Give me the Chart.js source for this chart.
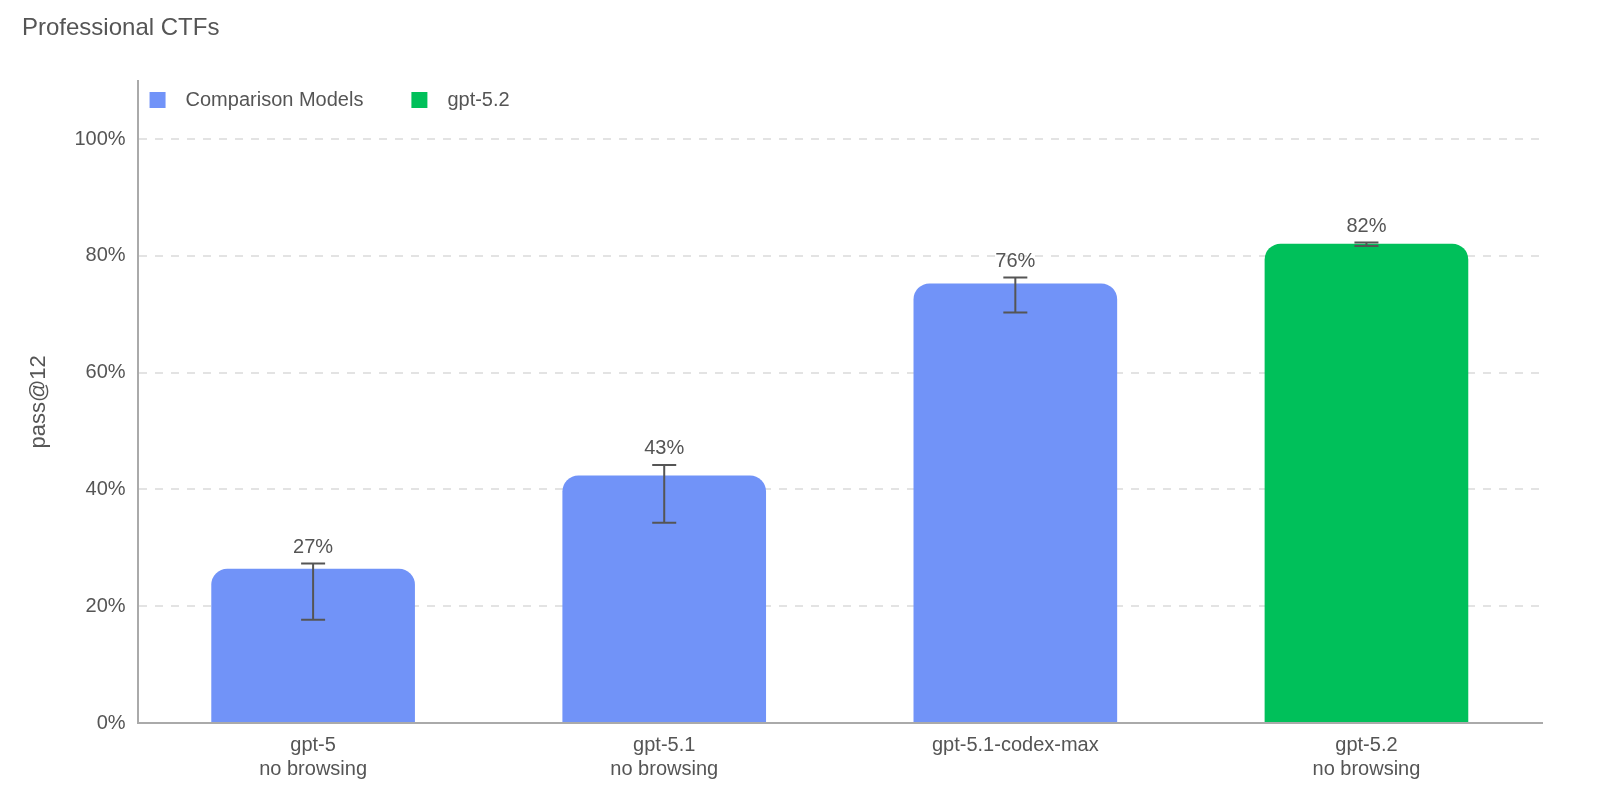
<!DOCTYPE html>
<html>
<head>
<meta charset="utf-8">
<script src="https://cdn.jsdelivr.net/npm/chart.js@4.4.1/dist/chart.umd.min.js"></script>
<style>
  html, body { margin: 0; padding: 0; background: #fff; overflow: hidden; }
  #wrap { width: 1600px; height: 801px; }
</style>
</head>
<body>
<div id="wrap"><canvas id="c"></canvas></div>
<script>
// data
const categories = [['gpt-5', 'no browsing'], ['gpt-5.1', 'no browsing'], ['gpt-5.1-codex-max'], ['gpt-5.2', 'no browsing']];
const comparisonValues = [26.4, 42.4, 75.3, null];
const gpt52Values = [null, null, null, 82.1];
const errLow = [17.7, 34.3, 70.3, 81.7];
const errHigh = [27.3, 44.2, 76.3, 82.3];
const valueLabels = ['27%', '43%', '76%', '82%'];
const yTicks = [0, 20, 40, 60, 80, 100];

const GRAY = '#555';
const FONT = 'Liberation Sans, Arial, sans-serif';

// error bars, value labels and the legend inside the plot
const extras = {
    id: 'extras',
    afterDatasetsDraw(chart) {
        let ctx = chart.ctx;
        let y = chart.scales.y;
        ctx.save();
        chart.data.datasets.forEach(function (ds, di) {
            let meta = chart.getDatasetMeta(di);
            meta.data.forEach(function (bar, i) {
                if (ds.data[i] == null) return;
                let x = bar.x;
                let yl = y.getPixelForValue(errLow[i]);
                let yh = y.getPixelForValue(errHigh[i]);
                ctx.strokeStyle = GRAY;
                ctx.lineWidth = 2;
                ctx.beginPath();
                ctx.moveTo(x, yl); ctx.lineTo(x, yh);
                ctx.moveTo(x - 12, yl); ctx.lineTo(x + 12, yl);
                ctx.moveTo(x - 12, yh); ctx.lineTo(x + 12, yh);
                ctx.stroke();
                ctx.fillStyle = GRAY;
                ctx.font = '20px ' + FONT;
                ctx.textAlign = 'center';
                ctx.textBaseline = 'bottom';
                ctx.fillText(valueLabels[i], x, Math.min(yh, bar.y) - 6);
            });
        });
        // legend
        let left = chart.chartArea.left;
        let items = chart.data.datasets.map(function (d) { return [d.label, d.backgroundColor]; });
        let lx = left + 12;
        ctx.font = '20px ' + FONT;
        ctx.textAlign = 'left';
        ctx.textBaseline = 'middle';
        items.forEach(function (it) {
            ctx.fillStyle = it[1];
            ctx.fillRect(lx, 92, 16, 16);
            ctx.fillStyle = GRAY;
            ctx.fillText(it[0], lx + 36, 100);
            lx += 36 + ctx.measureText(it[0]).width + 48;
        });
        ctx.restore();
    }
};

new Chart(document.getElementById('c'), {
    type: 'bar',
    data: {
        labels: categories,
        datasets: [
            { label: 'Comparison Models', data: comparisonValues, backgroundColor: '#7193F8' },
            { label: 'gpt-5.2', data: gpt52Values, backgroundColor: '#00C05A' }
        ]
    },
    options: {
        responsive: true,
        maintainAspectRatio: false,
        animation: false,
        skipNull: true,
        datasets: {
            bar: {
                categoryPercentage: 0.58,
                barPercentage: 1,
                borderRadius: { topLeft: 16, topRight: 16 },
                borderSkipped: 'bottom'
            }
        },
        layout: { padding: { left: 22, right: 58, top: 0, bottom: 18 } },
        plugins: {
            legend: { display: false },
            tooltip: { enabled: false },
            title: {
                display: true,
                text: 'Professional CTFs',
                align: 'start',
                color: GRAY,
                font: { family: FONT, size: 24, weight: 'normal' },
                padding: { top: 14, bottom: 38 }
            }
        },
        scales: {
            x: {
                grid: { display: false },
                border: { color: '#aaa', width: 2 },
                ticks: { color: GRAY, font: { family: FONT, size: 20 }, padding: 2 }
            },
            y: {
                min: 0,
                max: 110,
                afterBuildTicks: function (axis) { axis.ticks = yTicks.map(function (v) { return { value: v }; }); },
                grid: {
                    color: function (c) { return c.tick && c.tick.value === 0 ? 'transparent' : '#e3e3e3'; },
                    lineWidth: 2,
                    drawTicks: false
                },
                border: { color: '#aaa', width: 2, dash: [8, 8], display: true },
                ticks: {
                    color: GRAY,
                    font: { family: FONT, size: 20 },
                    padding: 12,
                    callback: function (v) { return v + '%'; }
                },
                title: {
                    display: true,
                    text: 'pass@12',
                    color: GRAY,
                    font: { family: FONT, size: 22 },
                    padding: { bottom: 10 }
                }
            }
        }
    },
    plugins: [extras]
});
</script>
</body>
</html>
